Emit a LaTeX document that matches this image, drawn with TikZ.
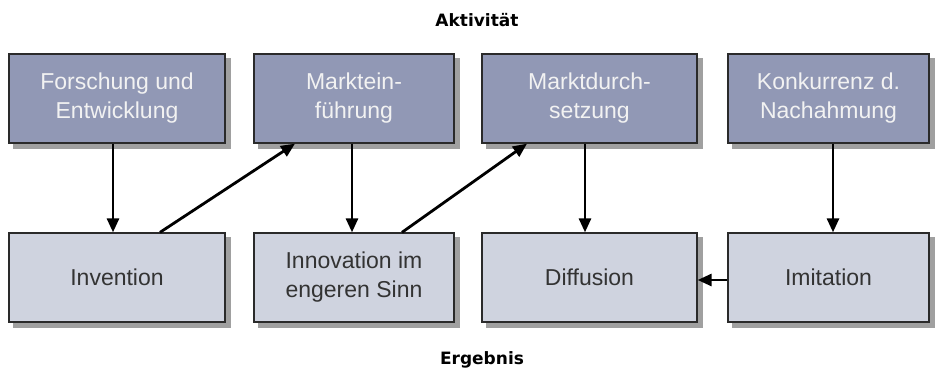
\documentclass[tikz,border=0pt]{standalone}
\usepackage{fontspec}
\setmainfont{Liberation Sans}
\newfontfamily\titlefont{DejaVu Sans}
\usetikzlibrary{arrows.meta,backgrounds}
\definecolor{topfill}{HTML}{9198B5}
\definecolor{botfill}{HTML}{CFD3DF}
\definecolor{shadowgray}{HTML}{A0A0A0}
\definecolor{boxline}{HTML}{2A2A2A}
\tikzset{
  box/.style={draw=boxline, line width=1.3pt, minimum height=89pt, inner sep=0pt,
    align=center, font=\fontsize{23}{29}\selectfont},
  topbox/.style={box, fill=topfill, text=white!95!black},
  botbox/.style={box, fill=botfill, text=black!80},
  arr/.style={line width=2.8pt, -{Triangle[length=14pt,width=12pt]}},
  boxshadow/.style={fill=shadowgray},
  titletext/.style={font=\titlefont\bfseries\fontsize{17}{20}\selectfont, inner sep=0pt}
}
\begin{document}
\begin{tikzpicture}[x=1pt,y=-1pt]
\useasboundingbox (0,0) rectangle (937,372);
\node[titletext] (akt) at (477,20.5) {Aktivität};
\node[titletext] (erg) at (482,359.5) {Ergebnis};
% top row
\node[topbox, minimum width=216pt] (t1) at (117,98.5) {Forschung und\\Entwicklung};
\node[topbox, minimum width=200pt] (t2) at (354,98.5) {Marktein-\\führung};
\node[topbox, minimum width=215pt] (t3) at (589.5,98.5) {Marktdurch-\\setzung};
\node[topbox, minimum width=201pt] (t4) at (828.5,98.5) {Konkurrenz d.\\Nachahmung};
% bottom row
\node[botbox, minimum width=216pt] (b1) at (117,277.5) {Invention};
\node[botbox, minimum width=200pt] (b2) at (354,277.5) {Innovation im\\engeren Sinn};
\node[botbox, minimum width=215pt] (b3) at (589.5,277.5) {Diffusion};
\node[botbox, minimum width=201pt] (b4) at (828.5,277.5) {Imitation};
% shadows
\begin{scope}[on background layer]
\foreach \n in {t1,t2,t3,t4,b1,b2,b3,b4}
  \fill[boxshadow] ([shift={(5,5)}]\n.north west) rectangle ([shift={(5,5)}]\n.south east);
\end{scope}
% connectors
\draw[arr] ([xshift=-4pt]t1.south) -- ([xshift=-4pt]b1.north);
\draw[arr] ([xshift=-2pt]t2.south) -- ([xshift=-2pt]b2.north);
\draw[arr] ([xshift=-4.5pt]t3.south) -- ([xshift=-4.5pt]b3.north);
\draw[arr] ([xshift=4.5pt]t4.south) -- ([xshift=4.5pt]b4.north);
\draw[arr] ([xshift=43pt]b1.north) -- ([xshift=-59pt]t2.south);
\draw[arr] ([xshift=48pt]b2.north) -- ([xshift=-62.5pt]t3.south);
\draw[arr] ([yshift=-2.5pt]b4.west) -- ([yshift=-2.5pt]b3.east);
\end{tikzpicture}
\end{document}
